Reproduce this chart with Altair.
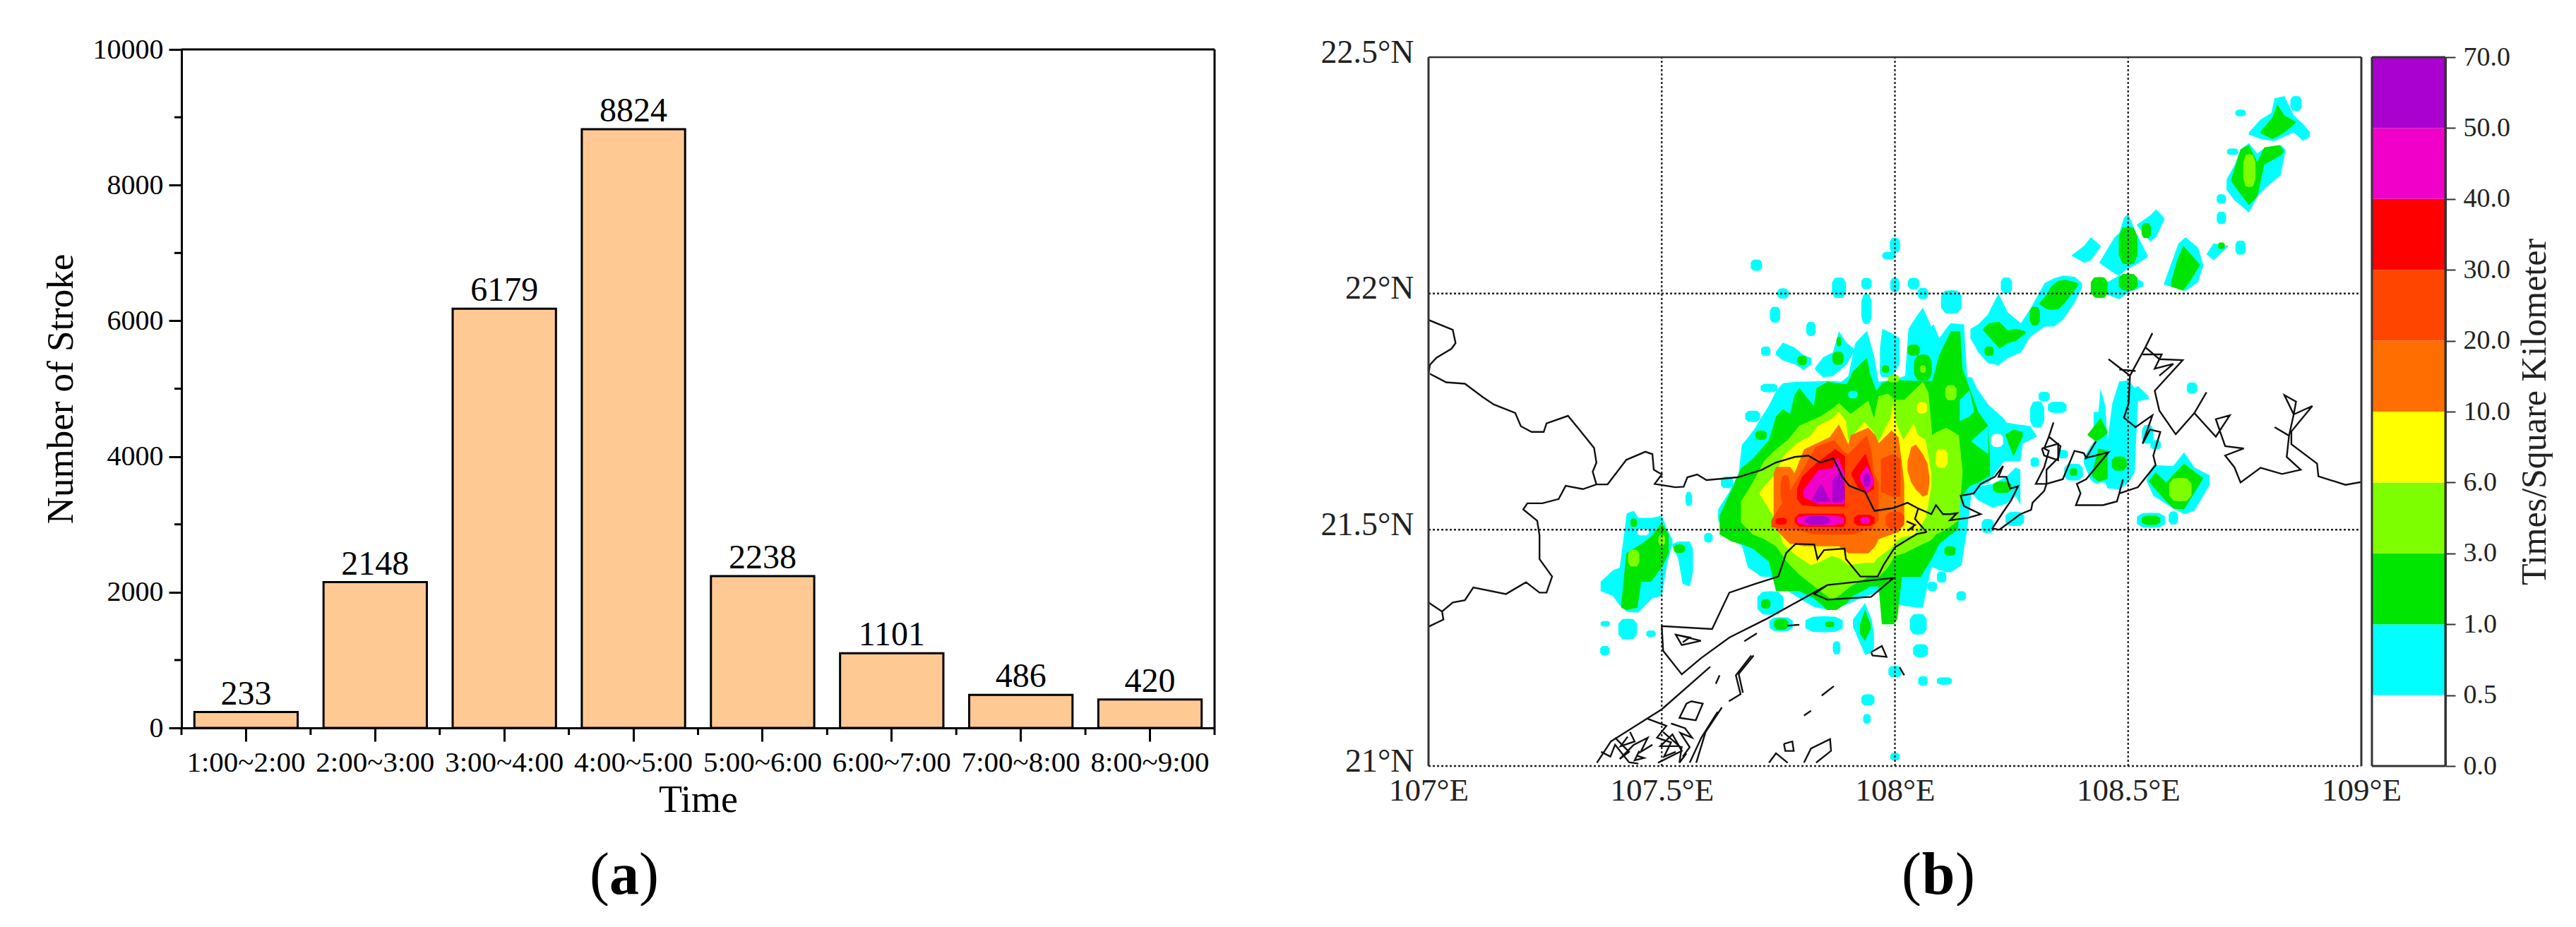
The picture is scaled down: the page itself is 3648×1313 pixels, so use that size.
import altair as alt
import pandas as pd

# ---------- panel (a) ----------
TIMES = ["1:00~2:00", "2:00~3:00", "3:00~4:00", "4:00~5:00", "5:00~6:00", "6:00~7:00", "7:00~8:00", "8:00~9:00"]
STROKES = [233, 2148, 6179, 8824, 2238, 1101, 486, 420]
Y_MAJOR = [0, 2000, 4000, 6000, 8000, 10000]
Y_MINOR = [1000, 3000, 5000, 7000, 9000]

# ---------- panel (b): colour bar ----------
BAR_LABELS = ["0.0", "0.5", "1.0", "3.0", "6.0", "10.0", "20.0", "30.0", "40.0", "50.0", "70.0"]
BAR_COLORS = ["#FFFFFF", "#00FFFF", "#00E600", "#7DFF00", "#FFFF00", "#FF6E00", "#FF4500", "#FF0000", "#F000C8", "#AA00D0"]

# ---------- panel (b): density outlines, (lon, lat_low, lat_high) ----------
C_MAIN = [(107.621,21.519,21.543),(107.645,21.485,21.58),(107.665,21.47,21.62),(107.672,21.466,21.68),(107.685,21.42,21.695),
 (107.70,21.41,21.715),(107.712,21.401,21.735),(107.73,21.40,21.763),(107.746,21.398,21.795),(107.76,21.377,21.81),
 (107.79,21.358,21.813),(107.827,21.336,21.814),(107.861,21.33,21.815),(107.885,21.338,21.813),(107.90,21.343,21.825),
 (107.915,21.35,21.895),(107.94,21.36,21.921),(107.955,21.365,21.87),(107.965,21.368,21.813),(108.0,21.345,21.818),
 (108.022,21.338,21.826),(108.029,21.338,21.925),(108.045,21.335,21.95),(108.06,21.335,21.97),(108.078,21.42,21.93),
 (108.083,21.42,21.935),(108.095,21.415,21.905),(108.113,21.41,21.93),(108.12,21.41,21.937),(108.143,21.425,21.935),
 (108.148,21.46,21.935),(108.155,21.50,21.823),(108.165,21.585,21.823),(108.176,21.59,21.799),(108.201,21.6,21.764),
 (108.234,21.645,21.735),(108.239,21.645,21.727),(108.269,21.645,21.722),(108.274,21.682,21.722),(108.29,21.69,21.719),(108.304,21.697,21.699)]
C_BAND1 = [(108.162,21.905,21.925),(108.179,21.875,21.935),(108.199,21.853,21.955),(108.222,21.848,22.0),(108.242,21.863,21.96),
 (108.27,21.875,21.937),(108.29,21.908,21.967),(108.321,21.93,22.022),(108.341,21.93,22.032),(108.361,21.945,22.038),(108.386,21.982,22.035),(108.401,22.012,22.022)]
C_LOBES = [
 [(107.745,21.87,21.877),(107.76,21.858,21.896),(107.786,21.85,21.885),(107.804,21.838,21.87),(107.821,21.85,21.863)],
 [(107.829,21.838,21.843),(107.846,21.823,21.865),(107.867,21.825,21.875),(107.88,21.835,21.92),(107.897,21.85,21.895),(107.915,21.881,21.881)],
 [(107.968,21.83,21.886),(107.973,21.823,21.925),(107.995,21.825,21.915),(108.01,21.85,21.905)],
 [(108.378,22.08,22.08),(108.406,22.065,22.101),(108.42,22.07,22.119),(108.441,22.098,22.101)],
 [(108.438,22.065,22.065),(108.471,22.042,22.119),(108.481,22.038,22.128),(108.491,22.047,22.16),(108.5,22.052,22.169),(108.517,22.061,22.128),(108.542,22.077,22.08)],
 [(108.456,21.997,22.024),(108.481,21.988,22.038),(108.5,22.002,22.042),(108.532,22.015,22.024)],
 [(108.519,22.144,22.146),(108.547,22.11,22.165),(108.56,22.119,22.178),(108.577,22.155,22.16)],
 [(108.577,22.018,22.022),(108.608,22.011,22.106),(108.623,22.005,22.119),(108.65,22.024,22.097),(108.661,22.059,22.061)],
 [(108.668,22.083,22.083),(108.683,22.07,22.106),(108.714,22.099,22.101)],
 [(108.711,22.219,22.241),(108.729,22.196,22.273),(108.741,22.187,22.305),(108.759,22.171,22.318),(108.777,22.205,22.296),(108.794,22.223,22.309),(108.827,22.25,22.314),(108.837,22.3,22.305)],
 [(108.759,22.336,22.341),(108.784,22.327,22.368),(108.807,22.323,22.382),(108.814,22.323,22.413),(108.835,22.332,22.418),(108.855,22.341,22.377),(108.875,22.323,22.359),(108.89,22.332,22.341)],
 [(108.539,21.605,21.605),(108.554,21.572,21.637),(108.597,21.545,21.635),(108.62,21.533,21.664),(108.642,21.54,21.632),(108.675,21.595,21.615)],
 [(108.405,21.64,21.652),(108.42,21.605,21.677),(108.431,21.597,21.692),(108.441,21.60,21.799),(108.451,21.60,21.762),(108.456,21.587,21.69),(108.466,21.587,21.767),(108.481,21.585,21.814),(108.501,21.60,21.816),(108.514,21.622,21.80),(108.521,21.772,21.804),(108.544,21.777,21.782)],
 [(108.426,21.692,21.749),(108.441,21.684,21.75)],
 [(108.159,21.582,21.597),(108.179,21.562,21.592),(108.209,21.547,21.597),(108.239,21.555,21.612),(108.259,21.572,21.632),(108.269,21.552,21.627)],
 [(107.369,21.37,21.39),(107.395,21.36,21.414),(107.41,21.34,21.42),(107.425,21.327,21.535),(107.44,21.325,21.54),(107.45,21.325,21.525),(107.465,21.34,21.525),(107.48,21.355,21.525),(107.5,21.36,21.53),(107.512,21.43,21.50),(107.523,21.47,21.48)],
 [(107.523,21.465,21.47),(107.535,21.44,21.475),(107.545,21.385,21.475),(107.56,21.38,21.475),(107.567,21.41,21.46)],
 [(107.91,21.295,21.31),(107.925,21.26,21.33),(107.936,21.235,21.345),(107.95,21.24,21.31),(107.955,21.25,21.28)],
]
# small isolated patches: centre lon, centre lat, half width, half height
C_SPOTS = [(107.703,22.06,.012,.012),(107.76,22.0,.012,.011),(107.88,22.012,.015,.022),(107.939,22.021,.011,.012),(108.0,22.018,.01,.015),
 (108.0,22.102,.011,.016),(107.987,22.08,.014,.008),(108.04,22.021,.012,.012),(108.06,22.0,.011,.012),(108.121,21.982,.022,.025),
 (108.239,22.017,.012,.017),(107.939,21.967,.011,.032),(107.743,21.955,.011,.017),(107.82,21.925,.01,.015),(107.723,21.878,.01,.01),
 (107.73,21.80,.018,.009),(108.741,22.097,.011,.015),(108.7,22.16,.01,.013),(108.7,22.2,.01,.01),(108.724,22.3,.012,.007),
 (108.741,22.382,.011,.007),(108.86,22.402,.012,.016),(108.549,21.52,.03,.016),(108.597,21.525,.01,.014),(108.637,21.8,.011,.012),
 (108.542,21.702,.012,.02),(108.559,21.68,.011,.01),(108.383,21.622,.02,.018),(108.36,21.66,.011,.009),(108.3,21.643,.009,.01),
 (108.32,21.782,.012,.01),(108.348,21.759,.02,.012),(108.305,21.744,.015,.028),(108.199,21.508,.013,.015),(108.257,21.523,.02,.015),
 (107.379,21.301,.01,.006),(107.427,21.29,.02,.022),(107.477,21.28,.01,.007),(107.378,21.244,.01,.01),(107.558,21.565,.007,.015),
 (107.6,21.483,.009,.01),(107.64,21.6,.013,.012),(107.733,21.345,.028,.025),(107.756,21.3,.025,.015),(107.848,21.3,.04,.017),
 (108.05,21.3,.018,.022),(107.875,21.25,.008,.014),(107.942,21.14,.014,.012),(107.94,21.1,.008,.01),(108.055,21.244,.016,.014),
 (108.06,21.18,.01,.01),(108.106,21.18,.016,.008),(108.0,21.2,.014,.012),(108.0,21.02,.01,.008),(108.142,21.36,.01,.01),
 (108.1,21.4,.01,.012),(108.08,21.38,.01,.01),(107.695,21.74,.016,.012),(107.98,21.84,.012,.017),(108.145,21.80,.014,.02)]
W_SPOTS = [(108.219,21.689,.013,.014),(107.46,21.495,.012,.007)]

G_MAIN = [(107.624,21.49,21.53),(107.65,21.475,21.585),(107.67,21.47,21.63),(107.695,21.46,21.65),(107.73,21.432,21.69),(107.745,21.37,21.74),
 (107.76,21.37,21.755),(107.775,21.37,21.745),(107.785,21.37,21.785),(107.795,21.37,21.80),(107.826,21.355,21.762),(107.832,21.35,21.80),
 (107.855,21.33,21.813),(107.875,21.33,21.81),(107.897,21.345,21.808),(107.91,21.36,21.835),(107.94,21.375,21.864),(107.947,21.38,21.83),
 (107.96,21.38,21.795),(107.965,21.38,21.80),(107.972,21.30,21.81),(107.997,21.30,21.818),(108.005,21.31,21.818),(108.015,21.40,21.816),
 (108.042,21.40,21.815),(108.055,21.40,21.815),(108.08,21.44,21.815),(108.095,21.47,21.87),(108.12,21.49,21.92),(108.135,21.5,21.92),
 (108.14,21.56,21.92),(108.145,21.572,21.84),(108.16,21.592,21.80),(108.179,21.60,21.749),(108.2,21.612,21.72),(108.204,21.612,21.66)]
G_LOBES = [
 [(108.189,21.922,21.925),(108.202,21.908,21.937),(108.224,21.883,21.94),(108.242,21.895,21.922),(108.26,21.90,21.925),(108.28,21.915,21.92)],
 [(108.31,21.977,21.98),(108.325,21.967,21.997),(108.335,21.965,22.015),(108.351,21.967,22.027),(108.366,21.982,22.029),(108.393,22.017,22.022)],
 [(108.592,22.015,22.024),(108.605,22.01,22.07),(108.618,22.006,22.101),(108.638,22.033,22.079),(108.653,22.059,22.062)],
 [(108.784,22.339,22.343),(108.809,22.327,22.372),(108.82,22.332,22.40),(108.835,22.341,22.377),(108.86,22.361,22.363)],
 [(108.721,22.237,22.241),(108.741,22.21,22.305),(108.759,22.187,22.314),(108.777,22.205,22.278),(108.792,22.273,22.309),(108.825,22.291,22.314),(108.835,22.30,22.30)],
 [(108.544,21.602,21.602),(108.559,21.585,21.622),(108.582,21.56,21.60),(108.597,21.545,21.617),(108.62,21.543,21.64),(108.66,21.607,21.61)],
 [(108.413,21.70,21.702),(108.431,21.687,21.724),(108.441,21.692,21.737),(108.456,21.704,21.707)],
 [(108.423,21.612,21.622),(108.436,21.602,21.672),(108.456,21.607,21.667)],
 [(108.237,21.70,21.702),(108.254,21.655,21.712),(108.274,21.697,21.707)],
 [(107.413,21.335,21.34),(107.424,21.33,21.45),(107.448,21.335,21.465),(107.456,21.39,21.47),(107.477,21.39,21.485),(107.5,21.42,21.515),(107.515,21.45,21.49)],
 [(107.925,21.28,21.30),(107.936,21.265,21.33),(107.948,21.29,21.30)],
]
G_SPOTS = [(108.202,21.878,.01,.01),(108.30,21.952,.011,.02),(108.44,22.012,.016,.022),(108.5,22.101,.02,.04),(108.5,22.024,.02,.018),
 (108.539,22.133,.01,.016),(108.438,22.013,.018,.022),(108.7,22.101,.007,.007),(108.549,21.52,.02,.01),(108.481,21.64,.016,.015),
 (108.383,21.622,.008,.008),(108.23,21.59,.02,.012),(108.118,21.455,.012,.01),(107.713,21.70,.012,.01),(107.801,21.858,.01,.01),
 (107.88,21.898,.005,.01),(107.878,21.863,.012,.014),(108.04,21.88,.013,.012),(107.98,21.84,.008,.008),(108.06,21.843,.019,.028),
 (107.538,21.46,.012,.009),(107.44,21.515,.007,.009),(107.723,21.343,.01,.01),(107.756,21.30,.015,.012),(107.86,21.30,.01,.006)]
C_OVER = [
 [(108.139,21.73,21.775),(108.16,21.74,21.795),(108.17,21.75,21.75)],
 [(108.163,21.687,21.687),(108.2,21.66,21.72)],
]
C_OVER_SPOTS = [(107.91,21.786,.01,.008)]

L_MAIN = [(107.67,21.515,21.56),(107.695,21.49,21.60),(107.72,21.48,21.646),(107.745,21.465,21.67),(107.77,21.43,21.69),(107.795,21.405,21.72),
 (107.84,21.37,21.74),(107.865,21.352,21.756),(107.88,21.36,21.768),(107.905,21.38,21.745),(107.943,21.40,21.773),(107.955,21.40,21.736),
 (107.965,21.40,21.783),(107.985,21.42,21.788),(108.0,21.445,21.775),(108.02,21.45,21.775),(108.06,21.47,21.813),(108.072,21.475,21.79),
 (108.08,21.48,21.70),(108.088,21.49,21.706),(108.11,21.50,21.716),(108.137,21.52,21.70),(108.145,21.62,21.625)]
L_SPOTS = [(108.76,22.26,.013,.035),(108.612,21.585,.024,.025),(107.44,21.44,.012,.018),(107.5,21.478,.007,.011),(108.12,21.79,.012,.016),
 (108.06,21.84,.006,.008),(107.997,21.82,.012,.008)]

Y_MAIN = [(107.71,21.575,21.58),(107.745,21.52,21.62),(107.76,21.47,21.655),(107.79,21.444,21.683),(107.82,21.425,21.70),(107.835,21.43,21.72),
 (107.865,21.445,21.735),(107.88,21.44,21.75),(107.895,21.43,21.73),(107.90,21.425,21.69),(107.935,21.43,21.728),(107.955,21.43,21.706),
 (107.963,21.44,21.683),(107.99,21.46,21.736),(107.995,21.465,21.765),(108.005,21.478,21.72),(108.018,21.485,21.69),(108.04,21.488,21.725),
 (108.05,21.50,21.70),(108.066,21.525,21.69),(108.078,21.59,21.62)]
Y_SPOTS = [(108.058,21.758,.011,.012),(108.1,21.651,.013,.02)]

O_MAIN = [(107.74,21.52,21.62),(107.745,21.50,21.633),(107.775,21.47,21.633),(107.785,21.47,21.62),(107.805,21.465,21.67),(107.86,21.465,21.696),
 (107.88,21.465,21.723),(107.90,21.45,21.68),(107.905,21.45,21.70),(107.943,21.45,21.716),(107.958,21.465,21.70),(107.965,21.48,21.683),
 (107.993,21.49,21.71),(108.008,21.495,21.695),(108.02,21.52,21.60)]
O_EAST = [(108.027,21.625,21.645),(108.035,21.60,21.675),(108.045,21.585,21.68),(108.06,21.57,21.66),(108.07,21.575,21.64),(108.074,21.60,21.61)]

D_MAIN = [(107.735,21.505,21.52),(107.79,21.50,21.606),(107.83,21.49,21.675),(107.87,21.49,21.69),(107.89,21.49,21.665),(107.90,21.49,21.66),
 (107.91,21.49,21.67),(107.94,21.50,21.70),(107.95,21.50,21.665),(107.955,21.51,21.62),(107.965,21.52,21.60)]
D_COL = [(107.97,21.58,21.65),(107.995,21.57,21.66),(108.012,21.57,21.65)]
D_SPOTS = [(107.765,21.585,.01,.03),(108.0,21.52,.02,.018)]

R_MAIN = [(107.79,21.566,21.586),(107.80,21.552,21.611),(107.83,21.549,21.64),(107.872,21.549,21.671),(107.893,21.549,21.656)]
R_COL = [(107.907,21.616,21.621),(107.92,21.59,21.64),(107.937,21.576,21.661),(107.955,21.586,21.606)]
R_BAND = [(107.785,21.515,21.525),(107.795,21.506,21.534),(107.89,21.506,21.534),(107.895,21.515,21.525)]
R_SPOTS = [(107.934,21.52,.022,.012),(107.756,21.518,.012,.007)]

M_MAIN = [(107.804,21.569,21.584),(107.836,21.554,21.626),(107.867,21.554,21.631),(107.877,21.554,21.654),(107.892,21.554,21.62)]
M_COL = [(107.925,21.606,21.616),(107.94,21.579,21.636),(107.955,21.596,21.606)]
M_SPOTS = [(107.84,21.52,.05,.011),(107.936,21.52,.01,.007)]

P_MAIN = [(107.821,21.559,21.56),(107.841,21.559,21.599),(107.862,21.559,21.56)]
P_EAST = [(107.866,21.558,21.606),(107.885,21.558,21.624),(107.892,21.565,21.586)]
P_SPOTS = [(107.94,21.605,.007,.014),(107.834,21.52,.026,.009)]

# ---------- panel (b): coastlines and borders, (lon, lat) ----------
COAST = [
 [(107.0,21.944),(107.052,21.923),(107.058,21.895),(107.049,21.883),(107.017,21.864),(107.003,21.849),(107.0,21.83)],
 [(107.003,21.83),(107.038,21.812),(107.078,21.809),(107.116,21.781),(107.14,21.765),(107.186,21.747),(107.198,21.719),(107.221,21.707),(107.247,21.707),(107.253,21.725),(107.299,21.741),(107.32,21.716),(107.355,21.673),(107.36,21.642),(107.352,21.623),(107.36,21.596)],
 [(107.0,21.346),(107.029,21.327),(107.032,21.31),(107.0,21.295)],
 [(107.029,21.327),(107.052,21.346),(107.078,21.351),(107.096,21.378),(107.166,21.364),(107.209,21.389),(107.238,21.367),(107.253,21.367),(107.265,21.401),(107.238,21.438),(107.238,21.488),(107.233,21.519),(107.203,21.543),(107.212,21.556),(107.244,21.556),(107.279,21.565),(107.294,21.593),(107.331,21.586),(107.36,21.596),(107.384,21.596),(107.424,21.648),(107.465,21.665),(107.48,21.66),(107.483,21.627),(107.5,21.617),(107.485,21.597),(107.529,21.59),(107.547,21.591),(107.555,21.611),(107.576,21.617),(107.596,21.605),(107.663,21.611),(107.715,21.627),(107.744,21.642),(107.785,21.654),(107.814,21.657),(107.84,21.642),(107.868,21.651),(107.888,21.611),(107.902,21.593),(107.936,21.58),(107.956,21.54),(107.997,21.546),(108.027,21.557),(108.05,21.545),(108.078,21.533),(108.088,21.552),(108.103,21.533),(108.118,21.533),(108.133,21.535),(108.118,21.52),(108.156,21.525),(108.184,21.533),(108.148,21.55),(108.141,21.572),(108.169,21.577),(108.184,21.597),(108.214,21.612),(108.232,21.635),(108.222,21.612),(108.239,21.612),(108.247,21.587),(108.264,21.592),(108.249,21.562),(108.229,21.533),(108.209,21.503),(108.224,21.50),(108.269,21.533),(108.292,21.542),(108.295,21.557),(108.32,21.582),(108.325,21.597),(108.302,21.597),(108.32,21.632),(108.33,21.667),(108.32,21.672),(108.33,21.697),(108.34,21.727),(108.33,21.697),(108.355,21.677),(108.35,21.652),(108.325,21.627),(108.325,21.597),(108.36,21.607),(108.385,21.667),(108.405,21.662),(108.41,21.652),(108.431,21.687),(108.41,21.652),(108.458,21.664),(108.41,21.607),(108.39,21.597),(108.398,21.577),(108.388,21.552),(108.446,21.552),(108.476,21.56),(108.481,21.577),(108.489,21.607),(108.481,21.577),(108.521,21.59),(108.559,21.637),(108.554,21.657),(108.569,21.707),(108.547,21.712),(108.531,21.682),(108.552,21.742),(108.516,21.717),(108.491,21.737),(108.501,21.767),(108.504,21.826),(108.458,21.861),(108.504,21.826),(108.537,21.886),(108.552,21.916),(108.537,21.886),(108.567,21.861),(108.617,21.859),(108.557,21.794),(108.567,21.752),(108.602,21.702),(108.642,21.747),(108.668,21.791),(108.642,21.747),(108.688,21.697),(108.718,21.742),(108.688,21.734),(108.708,21.677),(108.748,21.672),(108.708,21.657),(108.728,21.632),(108.741,21.60),(108.784,21.631),(108.83,21.618),(108.87,21.627),(108.84,21.654),(108.845,21.699),(108.814,21.717),(108.845,21.699),(108.855,21.744),(108.835,21.785),(108.86,21.771),(108.855,21.744),(108.895,21.762),(108.85,21.708),(108.85,21.681),(108.905,21.64),(108.908,21.613),(108.966,21.595),(109.0,21.601)],
 [(108.068,21.495),(108.047,21.491),(108.0,21.463),(107.976,21.426),(107.963,21.401),(107.926,21.401),(107.895,21.438),(107.892,21.46),(107.848,21.457),(107.834,21.438),(107.827,21.469),(107.787,21.47),(107.767,21.451),(107.75,21.401),(107.702,21.386),(107.645,21.367),(107.608,21.29),(107.5,21.296),(107.503,21.244),(107.543,21.194),(107.584,21.228),(107.645,21.272),(107.726,21.312),(107.855,21.383),(107.997,21.398),(107.949,21.358),(107.855,21.352),(107.827,21.364),(107.855,21.383)],
 [(107.53,21.278),(107.584,21.265),(107.543,21.256),(107.53,21.278),(107.56,21.272),(107.545,21.262)],
 [(107.604,21.21),(107.5,21.12),(107.452,21.09),(107.391,21.052),(107.361,21.007)],
 [(107.692,21.234),(107.659,21.192),(107.669,21.152),(107.644,21.137)],
 [(107.697,21.234),(107.665,21.195),(107.674,21.155)],
 [(107.629,21.124),(107.594,21.072),(107.574,21.007)],
 [(107.62,21.115),(107.585,21.06),(107.56,21.007)],
 [(107.563,21.137),(107.588,21.132),(107.573,21.097),(107.538,21.102),(107.553,21.132),(107.563,21.137)],
 [(107.432,21.072),(107.442,21.052),(107.412,21.042),(107.427,21.062)],
 [(107.503,21.072),(107.538,21.042),(107.497,21.042),(107.523,21.067),(107.543,21.032),(107.492,21.007)],
 [(107.543,21.042),(107.538,21.007),(107.553,21.027)],
 [(107.452,21.032),(107.442,21.012),(107.462,21.017),(107.447,21.022)],
 [(107.73,21.007),(107.745,21.027),(107.77,21.007)],
 [(107.805,21.007),(107.82,21.037),(107.861,21.057),(107.863,21.032),(107.831,21.007)],
 [(107.762,21.047),(107.78,21.052),(107.783,21.032),(107.765,21.032),(107.762,21.047)],
 [(107.843,21.149),(107.869,21.169)],
 [(107.805,21.107),(107.82,21.117)],
 [(107.949,21.241),(107.972,21.254),(107.982,21.231),(107.952,21.234),(107.949,21.241)],
 [(107.624,21.192),(107.616,21.174)],
 [(107.677,21.264),(107.704,21.281)],
 [(107.77,21.297),(107.795,21.299)],
 [(108.01,21.209),(108.02,21.192)],
 [(108.025,21.518),(108.043,21.51),(108.027,21.498),(108.04,21.505)],
 [(108.05,21.545),(108.043,21.523),(108.068,21.495)],
 [(108.315,21.672),(108.35,21.682),(108.35,21.647),(108.32,21.657),(108.315,21.672)],
 [(108.531,21.871),(108.572,21.871),(108.557,21.841),(108.597,21.851),(108.567,21.826)],
 [(108.481,21.839),(108.516,21.836)],
 [(107.40,21.06),(107.43,21.03),(107.41,21.015),(107.44,21.045),(107.47,21.06),(107.455,21.03),(107.48,21.045)],
 [(107.47,21.10),(107.51,21.085),(107.49,21.06),(107.52,21.05),(107.505,21.02),(107.53,21.03)],
 [(107.37,21.03),(107.39,21.02),(107.40,21.045),(107.42,21.02),(107.43,21.008),(107.45,21.005)],
 [(107.52,21.09),(107.55,21.08),(107.565,21.06),(107.54,21.07),(107.56,21.04),(107.545,21.02)],
]

LEVELS = [
 ("#00FFFF", [C_MAIN, C_BAND1] + C_LOBES, C_SPOTS),
 ("#FFFFFF", [], W_SPOTS),
 ("#00E600", [G_MAIN] + G_LOBES, G_SPOTS),
 ("#00FFFF", C_OVER, C_OVER_SPOTS),
 ("#7DFF00", [L_MAIN], L_SPOTS),
 ("#FFFF00", [Y_MAIN], Y_SPOTS),
 ("#FF6E00", [O_MAIN, O_EAST], []),
 ("#FF4500", [D_MAIN, D_COL], D_SPOTS),
 ("#FF0000", [R_MAIN, R_COL, R_BAND], R_SPOTS),
 ("#F000C8", [M_MAIN, M_COL], M_SPOTS),
 ("#AA00D0", [P_MAIN, P_EAST], P_SPOTS),
]


def spot_rows(spot):
    lon, lat, dx, dy = spot
    return [(lon - dx, lat - .5 * dy, lat + .5 * dy), (lon - .6 * dx, lat - .95 * dy, lat + .95 * dy),
            (lon, lat - dy, lat + dy),
            (lon + .6 * dx, lat - .95 * dy, lat + .95 * dy), (lon + dx, lat - .5 * dy, lat + .5 * dy)]


def level_frame(shapes, spots):
    rows = []
    for i, shape in enumerate(list(shapes) + [spot_rows(s) for s in spots]):
        rows += [{"id": i, "lon": a, "lo": b, "hi": c} for a, b, c in shape]
    return pd.DataFrame(rows)


SERIF = "Liberation Serif"
PLOT_A_W, PLOT_A_H = 1463, 961
MAP_W = 1321
VIEW_H = 1015
MAP_TOP = 11
A_W = PLOT_A_W + 288          # view width includes the gap before the map
GAP = 15

# ---------- panel (a) ----------
df_a = pd.DataFrame({"time": TIMES, "n": STROKES})
x_a = alt.X("time:N", sort=TIMES,
            scale=alt.Scale(range=[0, PLOT_A_W], paddingInner=0.2, paddingOuter=0.1),
            axis=alt.Axis(title="Time", labelAngle=0, labelFont=SERIF, labelFontSize=41, labelColor="black",
                          titleFont=SERIF, titleFontSize=54, titleFontWeight="normal", titleColor="black",
                          domainColor="black", domainWidth=3, tickColor="black", tickWidth=3, tickSize=19,
                          labelPadding=10, titlePadding=6, offset=PLOT_A_H - VIEW_H, labelOverlap=False))
y_scale_a = alt.Scale(domain=[0, 10000], range=[PLOT_A_H, 0])
y_a = alt.Y("n:Q", scale=y_scale_a,
            axis=alt.Axis(title="Number of Stroke", values=Y_MAJOR, labelFont=SERIF, labelFontSize=40, labelColor="black",
                          titleFont=SERIF, titleFontSize=53, titleFontWeight="normal", titleColor="black",
                          domainColor="black", domainWidth=3, tickColor="black", tickWidth=3, tickSize=18,
                          labelPadding=8, titlePadding=18, grid=False, format="d"))
bars = alt.Chart(df_a).mark_bar(color="#FFC994", stroke="black", strokeWidth=3).encode(x=x_a, y=y_a)
bar_text = alt.Chart(df_a).mark_text(font=SERIF, fontSize=48, color="black", baseline="alphabetic", dy=-11).encode(
    x=alt.X("time:N", sort=TIMES), y=alt.Y("n:Q"), text=alt.Text("n:Q", format="d"))
minor_y = alt.Chart(pd.DataFrame({"v": Y_MINOR})).mark_rule(color="black", strokeWidth=3).encode(
    y=alt.Y("v:Q", scale=y_scale_a), x=alt.value(-10), x2=alt.value(0))
minor_x = alt.Chart(df_a).mark_rule(color="black", strokeWidth=3, xOffset=-18.3).encode(
    x=alt.X("time:N", sort=TIMES, bandPosition=0), y=alt.value(PLOT_A_H), y2=alt.value(PLOT_A_H + 10))
minor_x_end = alt.Chart(df_a.tail(1)).mark_rule(color="black", strokeWidth=3, xOffset=18.3).encode(
    x=alt.X("time:N", sort=TIMES, bandPosition=1), y=alt.value(PLOT_A_H), y2=alt.value(PLOT_A_H + 10))
frame_top = alt.Chart(pd.DataFrame({"v": [10000]})).mark_rule(color="black", strokeWidth=3).encode(
    y=alt.Y("v:Q", scale=y_scale_a), x=alt.value(0), x2=alt.value(PLOT_A_W))
frame_right = alt.Chart(pd.DataFrame({"a": [0], "b": [10000]})).mark_rect(color="black").encode(
    x=alt.value(PLOT_A_W - 1.5), x2=alt.value(PLOT_A_W + 1.5), y=alt.value(0), y2=alt.value(PLOT_A_H))


def caption(letter, x0, half_w):
    one = alt.Chart(pd.DataFrame({"t": ["("]})).mark_text(font=SERIF, fontSize=84, align="right", baseline="alphabetic",
                                                          color="black").encode(
        text="t:N", x=alt.value(x0 - half_w), y=alt.value(1196))
    two = alt.Chart(pd.DataFrame({"t": [letter]})).mark_text(font=SERIF, fontSize=84, fontWeight="bold", align="center",
                                                             baseline="alphabetic", color="black").encode(
        text="t:N", x=alt.value(x0), y=alt.value(1196))
    three = alt.Chart(pd.DataFrame({"t": [")"]})).mark_text(font=SERIF, fontSize=84, align="left", baseline="alphabetic",
                                                            color="black").encode(
        text="t:N", x=alt.value(x0 + half_w), y=alt.value(1196))
    return one + two + three


panel_a = alt.layer(bars, bar_text, minor_y, minor_x, minor_x_end, frame_top, frame_right,
                    caption("a", 627, 21)).properties(width=A_W, height=VIEW_H)

# ---------- panel (b): map ----------
LON_TICKS = [107, 107.5, 108, 108.5, 109]
LAT_TICKS = [21, 21.5, 22, 22.5]
lon_scale = alt.Scale(domain=[107, 109], range=[0, MAP_W], nice=False, zero=False)
lat_scale = alt.Scale(domain=[21, 22.5], range=[VIEW_H, MAP_TOP], nice=False, zero=False)
lon_axis = alt.Axis(title=None, values=LON_TICKS, labelExpr="datum.value + '°E'", labelFont=SERIF, labelFontSize=45,
                    labelColor="#222222", ticks=False, domain=False, grid=False, labelPadding=12,
                    labelOverlap=False, labelFlush=False)
lat_axis = alt.Axis(title=None, values=LAT_TICKS, labelExpr="datum.value + '°N'", labelFont=SERIF, labelFontSize=46,
                    labelColor="#222222", ticks=False, domain=False, grid=False, labelPadding=21,
                    labelOffset=-7, labelOverlap=False, labelFlush=False)


def lon_x(field):
    return alt.X(field, scale=lon_scale, axis=lon_axis)


def lat_y(field):
    return alt.Y(field, scale=lat_scale, axis=lat_axis)


map_layers = []
for color, shapes, spots in LEVELS:
    map_layers.append(alt.Chart(level_frame(shapes, spots)).mark_area(color=color, clip=True).encode(
        x=lon_x("lon:Q"), y=lat_y("lo:Q"), y2="hi:Q", detail="id:N"))

grid_v = alt.Chart(pd.DataFrame({"lon": [107.5, 108, 108.5], "a": [21] * 3, "b": [22.5] * 3})).mark_rule(
    color="#333333", strokeWidth=2.5, strokeDash=[3, 3]).encode(x=lon_x("lon:Q"), y=lat_y("a:Q"), y2="b:Q")
grid_h = alt.Chart(pd.DataFrame({"lat": [21, 21.5, 22], "a": [107] * 3, "b": [109] * 3})).mark_rule(
    color="#222222", strokeWidth=2.5, strokeDash=[3, 3]).encode(y=lat_y("lat:Q"), x=lon_x("a:Q"), x2="b:Q")

coast_rows = []
for i, path in enumerate(COAST):
    coast_rows += [{"id": i, "k": k, "lon": a, "lat": b} for k, (a, b) in enumerate(path)]
coast = alt.Chart(pd.DataFrame(coast_rows)).mark_line(color="#111111", strokeWidth=2.4, clip=True).encode(
    x=lon_x("lon:Q"), y=lat_y("lat:Q"), detail="id:N", order="k:Q")

edge_l = alt.Chart(pd.DataFrame({"lon": [107, 109], "a": [21, 21], "b": [22.5, 22.5]})).mark_rule(
    color="#333333", strokeWidth=3).encode(x=lon_x("lon:Q"), y=lat_y("a:Q"), y2="b:Q")
edge_t = alt.Chart(pd.DataFrame({"lat": [22.5], "a": [107], "b": [109]})).mark_rule(
    color="#333333", strokeWidth=2.5).encode(y=lat_y("lat:Q"), x=lon_x("a:Q"), x2="b:Q")

panel_b = alt.layer(*map_layers, grid_v, grid_h, coast, edge_l, edge_t,
                    caption("b", 722, 24)).properties(width=MAP_W, height=VIEW_H)

# ---------- panel (b): colour bar ----------
bar_df = pd.DataFrame({"lo": list(range(len(BAR_COLORS))), "hi": list(range(1, len(BAR_COLORS) + 1)),
                       "c": BAR_COLORS, "x0": [0] * len(BAR_COLORS), "x1": [1] * len(BAR_COLORS)})
idx_scale = alt.Scale(domain=[0, len(BAR_COLORS)], range=[VIEW_H, MAP_TOP], nice=False, zero=False)
label_expr = "[" + ",".join("'%s'" % s for s in BAR_LABELS) + "][datum.value]"
cbar_rect = alt.Chart(bar_df).mark_rect().encode(
    x=alt.X("x0:Q", scale=alt.Scale(domain=[0, 1], nice=False), axis=None), x2="x1:Q",
    y=alt.Y("lo:Q", scale=idx_scale,
            axis=alt.Axis(orient="right", title="Times/Square Kilometer", values=list(range(len(BAR_LABELS))),
                          labelExpr=label_expr, labelFont=SERIF, labelFontSize=38, labelColor="#222222",
                          titleFont=SERIF, titleFontSize=50, titleFontWeight="normal", titleColor="#222222",
                          titleAngle=270, titleBaseline="bottom",
                          domainColor="#333333", domainWidth=3, tickColor="#333333", tickWidth=2, tickSize=14,
                          labelPadding=11, titlePadding=60, grid=False, labelOverlap=False)),
    y2="hi:Q", color=alt.Color("c:N", scale=None))
cbar_edge = alt.Chart(pd.DataFrame({"x": [0, 1], "a": [0, 0], "b": [len(BAR_COLORS)] * 2})).mark_rule(
    color="#333333", strokeWidth=3).encode(
    x=alt.X("x:Q", scale=alt.Scale(domain=[0, 1], nice=False), axis=None),
    y=alt.Y("a:Q", scale=idx_scale), y2="b:Q")
cbar_edge_h = alt.Chart(pd.DataFrame({"y": [0, len(BAR_COLORS)], "a": [0, 0], "b": [1, 1]})).mark_rule(
    color="#333333", strokeWidth=3).encode(
    y=alt.Y("y:Q", scale=idx_scale),
    x=alt.X("a:Q", scale=alt.Scale(domain=[0, 1], nice=False), axis=None), x2="b:Q")
panel_c = alt.layer(cbar_rect, cbar_edge, cbar_edge_h).properties(width=104, height=VIEW_H)

chart = alt.hconcat(panel_a, panel_b, panel_c, spacing=GAP, bounds="flush").properties(
    padding={"left": 52, "top": 42, "right": 0, "bottom": 0}, background="white"
).configure_view(stroke=None)

chart.save("out.html", embed_options={"renderer": "svg", "actions": False})
